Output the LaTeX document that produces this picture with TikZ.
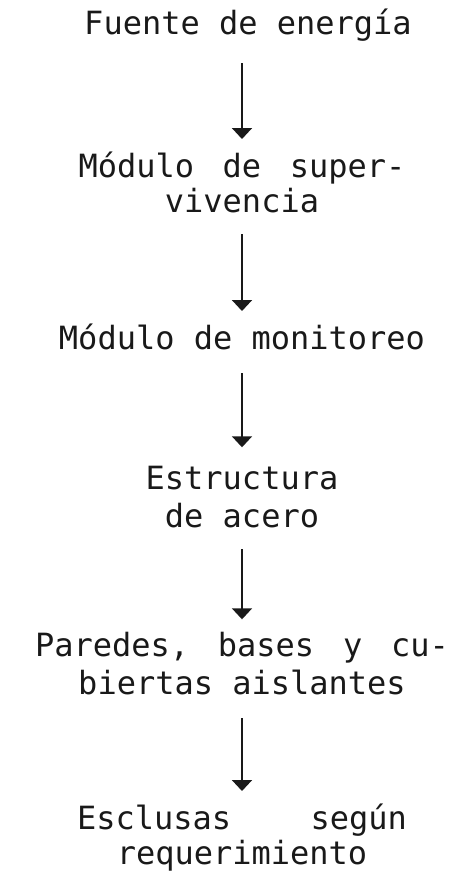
\documentclass[tikz,border=0pt]{standalone}
\usepackage{fontspec}
\newfontfamily\pasofont{DejaVu Sans Mono}
\usetikzlibrary{arrows.meta}

\begin{document}
\begin{tikzpicture}[x=1pt, y=-1pt, >={Triangle[width=20pt, length=11pt]},
  paso/.style={inner sep=0pt, align=center, anchor=south, text depth=0pt,
               font=\pasofont\fontsize{32}{36}\selectfont, text=black!90},
  flecha/.style={->, line width=2pt, draw=black!90,
                 shorten <=21pt, shorten >=13pt}]
  \useasboundingbox (0,0) rectangle (458,876);

  % Chain of steps, top to bottom
  \node[paso] (fuente) at (248,35) {Fuente de energía};
  \node[paso] (supervivencia) at (242,213)
    {\makebox[327pt][s]{Módulo\hfill de\hfill super-}\\[-1pt]vivencia};
  \node[paso] (monitoreo) at (242,350) {Módulo de monitoreo};
  \node[paso] (estructura) at (242,528) {Estructura\\[2pt]de acero};
  \node[paso] (paredes) at (242,695)
    {\makebox[414pt][s]{Paredes,\hfill bases\hfill y\hfill cu-}\\[2pt]biertas aislantes};
  \node[paso] (esclusas) at (242,865)
    {\makebox[330pt][s]{Esclusas\hfill según}\\[-1pt]requerimiento};

  % Arrows
  \draw[flecha, shorten <=28pt] (fuente.south -| supervivencia) -- (supervivencia);
  \draw[flecha] (supervivencia) -- (monitoreo);
  \draw[flecha, shorten <=23pt, shorten >=19pt] (monitoreo) -- (estructura);
  \draw[flecha] (estructura) -- (paredes);
  \draw[flecha, shorten <=23pt] (paredes) -- (esclusas);
\end{tikzpicture}
\end{document}
